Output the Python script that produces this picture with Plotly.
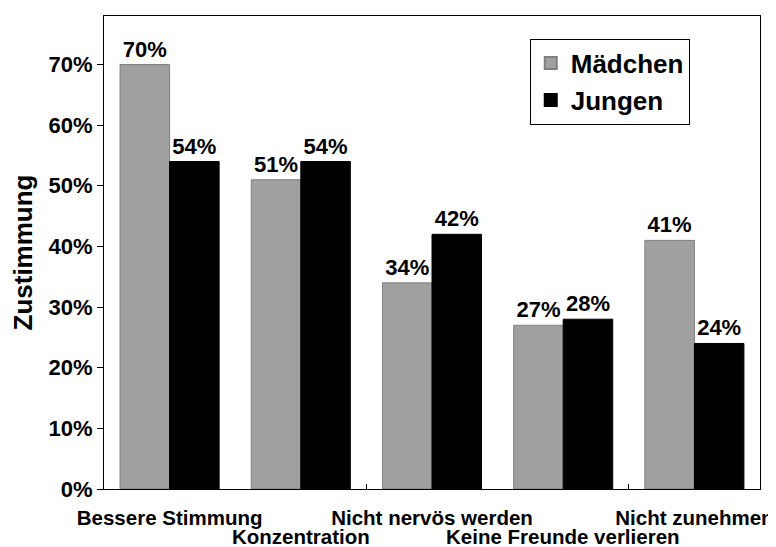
import plotly.graph_objects as go

categories = ["Bessere Stimmung", "Konzentration", "Nicht nervös werden",
              "Keine Freunde verlieren", "Nicht zunehmen"]
maedchen = [70, 51, 34, 27, 41]
jungen = [54, 54, 42, 28, 24]
y_ticks = [0, 10, 20, 30, 40, 50, 60, 70]

y_tick_text = [f"{v}%" for v in y_ticks]
row1_cats = categories[0::2]   # first label row (axis tick labels)
row2_cats = categories[1::2]   # staggered second row

FONT = "Liberation Sans, Arial, Helvetica, sans-serif"

fig = go.Figure()
fig.add_trace(go.Bar(
    name="Mädchen", x=categories, y=maedchen,
    marker=dict(color="#a0a0a0", line=dict(color="#808080", width=1)),
    text=[f"{v}%" for v in maedchen], textposition="outside", cliponaxis=False,
    textfont=dict(family=FONT, size=22, color="black", weight="bold"),
))
fig.add_trace(go.Bar(
    name="Jungen", x=categories, y=jungen,
    marker=dict(color="black", line=dict(color="black", width=1)),
    text=[f"{v}%" for v in jungen], textposition="outside", cliponaxis=False,
    textfont=dict(family=FONT, size=22, color="black", weight="bold"),
))

for c in row2_cats:
    fig.add_annotation(
        x=c, xref="x", y=0, yref="paper", yanchor="top", xanchor="center",
        yshift=-35, showarrow=False, text=c, borderpad=0,
        font=dict(family=FONT, size=20.5, color="black", weight="bold"),
    )

fig.update_layout(
    width=768, height=539,
    margin=dict(l=96, r=16, t=8, b=58, autoexpand=False),
    paper_bgcolor="white", plot_bgcolor="white",
    barmode="group", bargap=0.245, bargroupgap=0,
    font=dict(family=FONT, size=21, color="black", weight="bold"),
    showlegend=True,
    legend=dict(x=0.649, y=0.952, xanchor="left", yanchor="top",
                bordercolor="black", borderwidth=1, bgcolor="white",
                font=dict(family=FONT, size=26, color="black", weight="bold"),
                tracegroupgap=0, itemsizing="constant"),
    uniformtext=dict(mode=False),
)
fig.update_xaxes(
    type="category", categoryorder="array", categoryarray=categories,
    range=[-0.5, 4.5], automargin=False,
    tickmode="array", tickvals=row1_cats, ticktext=row1_cats, tickangle=0,
    tickson="boundaries", ticks="inside", ticklen=5, tickcolor="black",
    showline=True, linecolor="black", linewidth=1, mirror=True,
    showgrid=False, zeroline=False,
    tickfont=dict(family=FONT, size=20.5, color="black", weight="bold"),
    ticklabelstandoff=10,
)
fig.update_yaxes(
    range=[0, 78], automargin=False,
    tickmode="array", tickvals=y_ticks, ticktext=y_tick_text,
    ticks="outside", ticklen=6, tickcolor="black",
    showline=True, linecolor="black", linewidth=1, mirror=True,
    showgrid=False, zeroline=False,
    tickfont=dict(family=FONT, size=22, color="black", weight="bold"),
    title=dict(text="Zustimmung", standoff=19,
               font=dict(family=FONT, size=26, color="black", weight="bold")),
    ticklabelstandoff=0,
)

fig.write_html("out.html")
